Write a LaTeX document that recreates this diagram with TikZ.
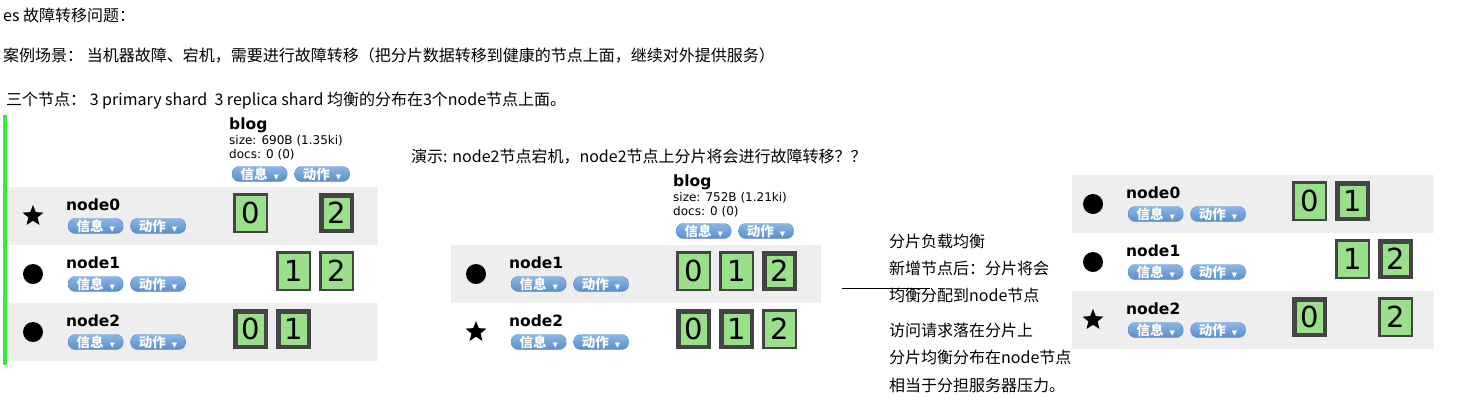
\documentclass[tikz,border=0pt]{standalone}
\usepackage{fontspec}
\setmainfont{Noto Sans CJK SC}
\newfontfamily\vfont{DejaVu Sans}
\usetikzlibrary{positioning,shapes.geometric}

\definecolor{rowgray}{HTML}{EEEEEE}
\definecolor{shardgreen}{HTML}{9ADF8A}
\definecolor{shardline}{HTML}{444444}
\definecolor{btntop}{HTML}{8AB6E6}
\definecolor{btnbottom}{HTML}{5A8ECB}
\definecolor{barGreen}{HTML}{33EE33}

\newcommand{\btncaret}{{\vfont\fontsize{7}{7}\selectfont ▼}}

% one row of the cluster view: id, icon x, row top, name, icon style
\newcommand{\esrow}[5]{%
  \node[#5] (#1icon) at (#2,#3+29) {};
  \node[nodename] (#1name) at (#2+33,#3+18) {#4};
  \node[btn,anchor=west] (#1info) at (#2+35,#3+39) {信息\hspace{6pt}\btncaret};
  \node[btn,right=7pt of #1info] (#1act) {动作\hspace{6pt}\btncaret};
}
% index header: id, x, y of title, size text
\newcommand{\esindex}[4]{%
  \node[idxtitle] (#1blog) at (#2,#3) {blog};
  \node[idxinfo] (#1size) at (#2,#3+16) {#4};
  \node[idxinfo] (#1docs) at (#2,#3+30) {docs: 0 (0)};
  \node[btn,anchor=west] (#1info) at (#2+3,#3+49) {信息\hspace{6pt}\btncaret};
  \node[btn,right=7pt of #1info] (#1act) {动作\hspace{6pt}\btncaret};
}

\begin{document}
\begin{tikzpicture}[x=1pt,y=-1pt,
  note/.style={anchor=west,inner sep=0,font=\fontsize{16}{16}\selectfont},
  nodename/.style={anchor=west,inner sep=0,font=\vfont\bfseries\fontsize{15.5}{15.5}\selectfont},
  idxtitle/.style={anchor=west,inner sep=0,font=\vfont\bfseries\fontsize{15.5}{15.5}\selectfont},
  idxinfo/.style={anchor=west,inner sep=0,font=\vfont\fontsize{12}{12}\selectfont},
  btn/.style={rounded corners=7pt,top color=btntop,bottom color=btnbottom,draw=btnbottom,
    minimum width=55pt,minimum height=15pt,inner sep=0,text=white,
    font=\bfseries\fontsize{13.5}{13.5}\selectfont},
  replica/.style={draw=shardline,fill=shardgreen,line width=2.5pt,minimum width=32.5pt,
    minimum height=37.5pt,inner sep=0,font=\vfont\fontsize{29}{29}\selectfont},
  primary/.style={replica,line width=4.5pt,minimum width=30.5pt,minimum height=35.5pt},
  nodedot/.style={circle,fill=black,minimum size=20pt,inner sep=0},
  masterstar/.style={star,star points=5,star point ratio=2.3,fill=black,minimum size=22pt,inner sep=0}]
\useasboundingbox (0,0) rectangle (1470,400);

% texts
\node[note] (title) at (3,15) {es 故障转移问题：};
\node[note] (scene) at (3,56) {案例场景： 当机器故障、宕机，需要进行故障转移（把分片数据转移到健康的节点上面，继续对外提供服务）};
\node[note] (three) at (6,101) {三个节点： 3 primary shard\ \ 3 replica shard 均衡的分布在3个node节点上面。};
\node[note] (demo) at (411,157) {演示: node2节点宕机，node2节点上分片将会进行故障转移？？};

% left: three nodes
\fill[rowgray] (7,187) rectangle (378,245);
\fill[rowgray] (7,303) rectangle (378,361);
\draw[barGreen,line width=4pt] (5,115) -- (5,365);
\esindex{L}{229}{125}{size: 690B (1.35ki)}
\esrow{La}{33}{187}{node0}{masterstar}
\esrow{Lb}{33}{245}{node1}{nodedot}
\esrow{Lc}{33}{303}{node2}{nodedot}
\node[replica] (La0) at (250.5,213) {0};
\node[primary] (La2) at (336.5,213) {2};
\node[replica] (Lb1) at (293.5,271) {1};
\node[replica] (Lb2) at (336.5,271) {2};
\node[primary] (Lc0) at (250.5,329) {0};
\node[primary] (Lc1) at (293.5,329) {1};

% middle: node0 down
\fill[rowgray] (451,245) rectangle (821,303);
\esindex{M}{673}{182}{size: 752B (1.21ki)}
\esrow{Mb}{476}{245}{node1}{nodedot}
\esrow{Mc}{476}{303}{node2}{masterstar}
\node[replica] (Mb0) at (693.5,271) {0};
\node[replica] (Mb1) at (736.5,271) {1};
\node[primary] (Mb2) at (779.5,271) {2};
\node[primary] (Mc0) at (693.5,329) {0};
\node[primary] (Mc1) at (736.5,329) {1};
\node[replica] (Mc2) at (779.5,329) {2};

% notes
\coordinate (lineA) at (842,288);
\coordinate (lineB) at (930,288);
\draw (lineA) -- (lineB);
\foreach \txt/\yy [count=\i] in {分片负载均衡/241,新增节点后：分片将会/268,均衡分配到node节点/295,
  访问请求落在分片上/330,分片均衡分布在node节点/357,相当于分担服务器压力。/385}
  \node[note] (side\i) at (889,\yy) {\txt};

% right: balanced again
\fill[rowgray] (1072,175) rectangle (1434,233);
\fill[rowgray] (1072,291) rectangle (1434,349);
\esrow{Ra}{1093}{175}{node0}{nodedot}
\esrow{Rb}{1093}{233}{node1}{nodedot}
\esrow{Rc}{1093}{291}{node2}{masterstar}
\node[replica] (Ra0) at (1309.5,201) {0};
\node[primary] (Ra1) at (1352.5,201) {1};
\node[replica] (Rb1) at (1352.5,259) {1};
\node[primary] (Rb2) at (1395.5,259) {2};
\node[primary] (Rc0) at (1309.5,317) {0};
\node[replica] (Rc2) at (1395.5,317) {2};
\end{tikzpicture}
\end{document}
